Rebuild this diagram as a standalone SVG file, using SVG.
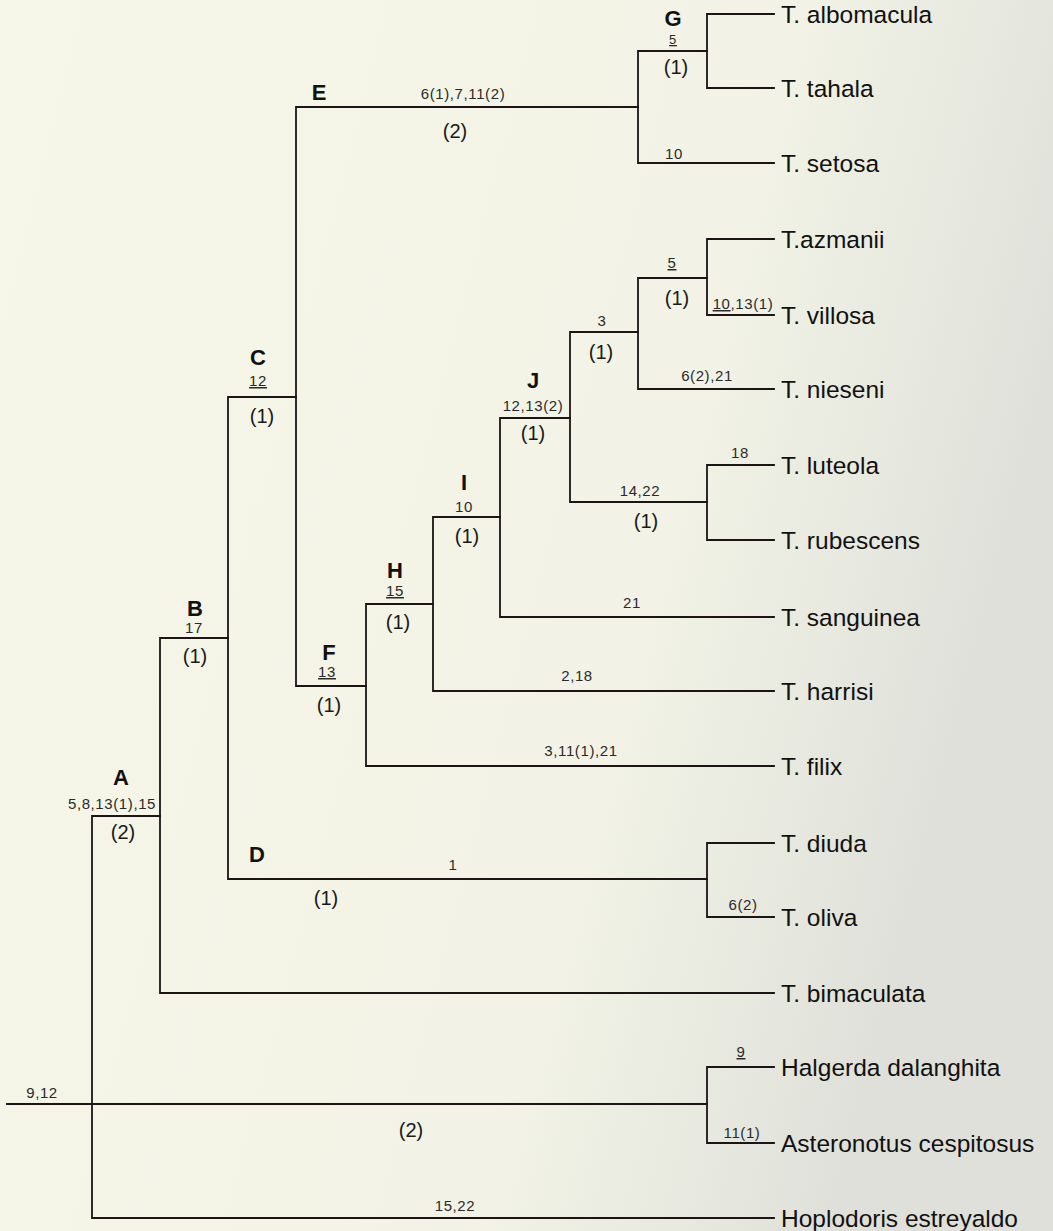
<svg xmlns="http://www.w3.org/2000/svg" width="1053" height="1231" viewBox="0 0 1053 1231">
<defs>
<linearGradient id="bg" x1="0" y1="0" x2="1" y2="0.3">
<stop offset="0" stop-color="#f6f7e8"/>
<stop offset="0.7" stop-color="#f2f3e6"/>
<stop offset="1" stop-color="#dfe0d9"/>
</linearGradient>
<style>
.br{fill:none;stroke:#1c1416;stroke-width:1.8;stroke-linecap:square}
.leaf{font-family:"Liberation Sans",Arial,sans-serif;font-size:24.5px;fill:#111}
.nl{font-family:"Liberation Sans",Arial,sans-serif;font-size:22px;font-weight:bold;fill:#111;text-anchor:middle}
.ch{font-family:"Liberation Sans",Arial,sans-serif;font-size:15px;letter-spacing:0.6px;fill:#2a2a2a;text-anchor:middle}
.st{font-family:"Liberation Sans",Arial,sans-serif;font-size:20px;fill:#1a1a1a;text-anchor:middle}
.u{text-decoration:underline}
.sm{font-size:13px}
</style>
</defs>
<rect width="1053" height="1231" fill="url(#bg)"/>
<g id="connectors">
<path class="br" d="M7 1104 H92"/>
<path class="br" d="M92 1104 H707"/>
<path class="br" d="M92 1104 V816 H160"/>
<path class="br" d="M92 1104 V1218 H774"/>
<path class="br" d="M707 1104 V1067 H774"/>
<path class="br" d="M707 1104 V1143 H774"/>
<path class="br" d="M160 816 V638 H228"/>
<path class="br" d="M160 816 V993 H774"/>
<path class="br" d="M228 638 V397 H296"/>
<path class="br" d="M228 638 V879 H707"/>
<path class="br" d="M707 879 V843 H774"/>
<path class="br" d="M707 879 V917 H774"/>
<path class="br" d="M296 397 V107 H638"/>
<path class="br" d="M296 397 V686 H366"/>
<path class="br" d="M638 107 V51 H707"/>
<path class="br" d="M638 107 V163 H774"/>
<path class="br" d="M707 51 V14 H774"/>
<path class="br" d="M707 51 V88 H774"/>
<path class="br" d="M366 686 V604 H433"/>
<path class="br" d="M366 686 V766 H774"/>
<path class="br" d="M433 604 V517 H500"/>
<path class="br" d="M433 604 V691 H774"/>
<path class="br" d="M500 517 V418 H570"/>
<path class="br" d="M500 517 V617 H774"/>
<path class="br" d="M570 418 V332 H638"/>
<path class="br" d="M570 418 V502 H707"/>
<path class="br" d="M638 332 V278 H707"/>
<path class="br" d="M638 332 V389 H774"/>
<path class="br" d="M707 278 V239 H774"/>
<path class="br" d="M707 278 V315 H774"/>
<path class="br" d="M707 502 V465 H774"/>
<path class="br" d="M707 502 V540 H774"/>
</g>
<g id="node-root"><text class="ch" x="42" y="1098">9,12</text></g>
<g id="node-outgroup"><text class="st" x="411" y="1137">(2)</text></g>
<g id="node-A"><text class="nl" x="121" y="785">A</text><text class="ch" x="112" y="809">5,8,13(1),15</text><text class="st" x="123" y="839">(2)</text></g>
<g id="node-B"><text class="nl" x="195" y="616">B</text><text class="ch" x="194" y="633">17</text><text class="st" x="195" y="663">(1)</text></g>
<g id="node-C"><text class="nl" x="258" y="365">C</text><text class="ch u" x="258" y="386">12</text><text class="st" x="262" y="423">(1)</text></g>
<g id="node-D"><text class="nl" x="257" y="862">D</text><text class="ch" x="453" y="870">1</text><text class="st" x="326" y="905">(1)</text></g>
<g id="node-E"><text class="nl" x="319" y="100">E</text><text class="ch" x="463" y="99">6(1),7,11(2)</text><text class="st" x="455" y="138">(2)</text></g>
<g id="node-F"><text class="nl" x="329" y="660">F</text><text class="ch u" x="327" y="677">13</text><text class="st" x="329" y="712">(1)</text></g>
<g id="node-G"><text class="nl" x="673" y="26">G</text><text class="ch u sm" x="673" y="44">5</text><text class="st" x="676" y="74">(1)</text></g>
<g id="node-H"><text class="nl" x="395" y="578">H</text><text class="ch u" x="395" y="596">15</text><text class="st" x="398" y="629">(1)</text></g>
<g id="node-I"><text class="nl" x="464" y="490">I</text><text class="ch" x="464" y="512">10</text><text class="st" x="467" y="543">(1)</text></g>
<g id="node-J"><text class="nl" x="533" y="388">J</text><text class="ch" x="533" y="411">12,13(2)</text><text class="st" x="533" y="440">(1)</text></g>
<g id="node-3"><text class="ch" x="602" y="326">3</text><text class="st" x="601" y="359">(1)</text></g>
<g id="node-5"><text class="ch u" x="672" y="268">5</text><text class="st" x="677" y="305">(1)</text></g>
<g id="node-14-22"><text class="ch" x="640" y="496">14,22</text><text class="st" x="646" y="528">(1)</text></g>
<g id="leaf-albomacula"><text class="leaf" x="781" y="23">T. albomacula</text></g>
<g id="leaf-tahala"><text class="leaf" x="781" y="97">T. tahala</text></g>
<g id="leaf-setosa"><text class="ch" x="674" y="159">10</text><text class="leaf" x="781" y="172">T. setosa</text></g>
<g id="leaf-azmanii"><text class="leaf" x="781" y="248">T.azmanii</text></g>
<g id="leaf-villosa"><text class="ch" x="743" y="309"><tspan class="u">10</tspan>,13(1)</text><text class="leaf" x="781" y="324">T. villosa</text></g>
<g id="leaf-nieseni"><text class="ch" x="707" y="381">6(2),21</text><text class="leaf" x="781" y="398">T. nieseni</text></g>
<g id="leaf-luteola"><text class="ch" x="740" y="458">18</text><text class="leaf" x="781" y="474">T. luteola</text></g>
<g id="leaf-rubescens"><text class="leaf" x="781" y="549">T. rubescens</text></g>
<g id="leaf-sanguinea"><text class="ch" x="632" y="608">21</text><text class="leaf" x="781" y="626">T. sanguinea</text></g>
<g id="leaf-harrisi"><text class="ch" x="577" y="681">2,18</text><text class="leaf" x="781" y="700">T. harrisi</text></g>
<g id="leaf-filix"><text class="ch" x="581" y="756">3,11(1),21</text><text class="leaf" x="781" y="775">T. filix</text></g>
<g id="leaf-diuda"><text class="leaf" x="781" y="852">T. diuda</text></g>
<g id="leaf-oliva"><text class="ch" x="743" y="910">6(2)</text><text class="leaf" x="781" y="926">T. oliva</text></g>
<g id="leaf-bimaculata"><text class="leaf" x="781" y="1002">T. bimaculata</text></g>
<g id="leaf-halgerda"><text class="ch u" x="741" y="1057">9</text><text class="leaf" x="781" y="1076">Halgerda dalanghita</text></g>
<g id="leaf-asteronotus"><text class="ch" x="742" y="1138">11(1)</text><text class="leaf" x="781" y="1152">Asteronotus cespitosus</text></g>
<g id="leaf-hoplodoris"><text class="ch" x="455" y="1211">15,22</text><text class="leaf" x="781" y="1227">Hoplodoris estreyaldo</text></g>
</svg>
